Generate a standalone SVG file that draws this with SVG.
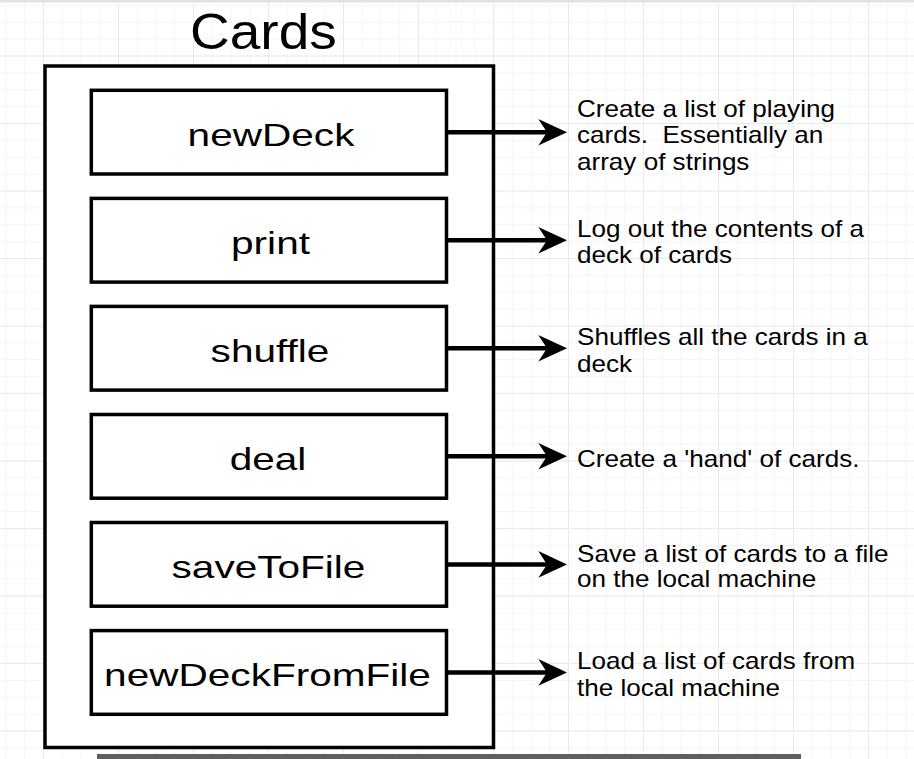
<svg xmlns="http://www.w3.org/2000/svg" width="914" height="759" viewBox="0 0 914 759">
<defs>
<style>
.minor{stroke:#f5f5f5;stroke-width:1}
.major{stroke:#eaeaea;stroke-width:1}
.frame{fill:#fff;stroke:#000;stroke-width:3.5}
.box{fill:#fff;stroke:#000;stroke-width:3.5}
.lbl{font-family:"Liberation Sans",Arial,Helvetica,sans-serif;font-size:31.7px;fill:#000;text-anchor:middle}
.title{font-family:"Liberation Sans",Arial,Helvetica,sans-serif;font-size:50px;fill:#000;text-anchor:middle}
.desc{font-family:"Liberation Sans",Arial,Helvetica,sans-serif;font-size:23px;fill:#000;white-space:pre}
.conn{stroke:#000;stroke-width:4.5;fill:none}
.head{fill:#000}
</style>
<pattern id="gridMinor" x="5.5" y="4.875" width="18.75" height="16.875" patternUnits="userSpaceOnUse">
<path d="M0.5 0V16.875M0 0.5H18.75" class="minor"/>
</pattern>
<pattern id="gridMajor" x="43" y="55.5" width="75" height="67.5" patternUnits="userSpaceOnUse">
<path d="M0.5 0V67.5M0 0.5H75" class="major"/>
</pattern>
</defs>
<rect width="914" height="759" fill="#fff"/>
<rect width="914" height="759" fill="url(#gridMinor)"/>
<rect width="914" height="759" fill="url(#gridMajor)"/>
<rect x="0" y="0" width="914" height="2.5" fill="#e2e2e2"/>

<g id="cards">
<rect class="frame" x="45" y="66" width="448.5" height="681.5"/>
<text class="title" transform="translate(263.4,49.3) scale(1.1,1)" x="0" y="0">Cards</text>
</g>

<g id="newDeck">
<rect class="box" x="91.3" y="90.3" width="355.2" height="83.7"/>
<text class="lbl" transform="translate(271,146) scale(1.28,1)">newDeck</text>
</g>
<g id="print">
<rect class="box" x="91.3" y="198.4" width="355.2" height="83.7"/>
<text class="lbl" transform="translate(270.5,254) scale(1.28,1)">print</text>
</g>
<g id="shuffle">
<rect class="box" x="91.3" y="306.4" width="355.2" height="83.7"/>
<text class="lbl" transform="translate(270,362.1) scale(1.28,1)">shuffle</text>
</g>
<g id="deal">
<rect class="box" x="91.3" y="414.5" width="355.2" height="83.7"/>
<text class="lbl" transform="translate(268,470.1) scale(1.28,1)">deal</text>
</g>
<g id="saveToFile">
<rect class="box" x="91.3" y="522.5" width="355.2" height="83.7"/>
<text class="lbl" transform="translate(268.5,578.2) scale(1.28,1)">saveToFile</text>
</g>
<g id="newDeckFromFile">
<rect class="box" x="91.3" y="630.6" width="355.2" height="83.7"/>
<text class="lbl" transform="translate(267.5,686.2) scale(1.28,1)">newDeckFromFile</text>
</g>

<g id="connectors">
<path class="conn" d="M448 132.2H549"/>
<polygon class="head" points="567,132.2 538.3,118.9 547,132.2 538.3,145.5"/>
<path class="conn" d="M448 240.2H549"/>
<polygon class="head" points="567,240.2 538.3,226.9 547,240.2 538.3,253.5"/>
<path class="conn" d="M448 348.3H549"/>
<polygon class="head" points="567,348.3 538.3,335 547,348.3 538.3,361.6"/>
<path class="conn" d="M448 456.3H549"/>
<polygon class="head" points="567,456.3 538.3,443 547,456.3 538.3,469.6"/>
<path class="conn" d="M448 564.4H549"/>
<polygon class="head" points="567,564.4 538.3,551.1 547,564.4 538.3,577.7"/>
<path class="conn" d="M448 672.4H549"/>
<polygon class="head" points="567,672.4 538.3,659.1 547,672.4 538.3,685.7"/>
</g>

<g id="desc-newDeck" transform="translate(577,0) scale(1.134,1)">
<text class="desc" x="0" y="116.7">Create a list of playing</text>
<text class="desc" x="0" y="143.3" xml:space="preserve">cards.  Essentially an</text>
<text class="desc" x="0" y="170">array of strings</text>
</g>
<g id="desc-print" transform="translate(577,0) scale(1.134,1)">
<text class="desc" x="0" y="236.7">Log out the contents of a</text>
<text class="desc" x="0" y="263.4">deck of cards</text>
</g>
<g id="desc-shuffle" transform="translate(577,0) scale(1.134,1)">
<text class="desc" x="0" y="345">Shuffles all the cards in a</text>
<text class="desc" x="0" y="371.6">deck</text>
</g>
<g id="desc-deal" transform="translate(577,0) scale(1.134,1)">
<text class="desc" x="0" y="466.6">Create a 'hand' of cards.</text>
</g>
<g id="desc-saveToFile" transform="translate(577,0) scale(1.134,1)">
<text class="desc" x="0" y="561.6">Save a list of cards to a file</text>
<text class="desc" x="0" y="587.5">on the local machine</text>
</g>
<g id="desc-newDeckFromFile" transform="translate(577,0) scale(1.134,1)">
<text class="desc" x="0" y="669">Load a list of cards from</text>
<text class="desc" x="0" y="695.6">the local machine</text>
</g>

<rect x="97" y="754" width="704" height="5" fill="#606060"/>
</svg>
